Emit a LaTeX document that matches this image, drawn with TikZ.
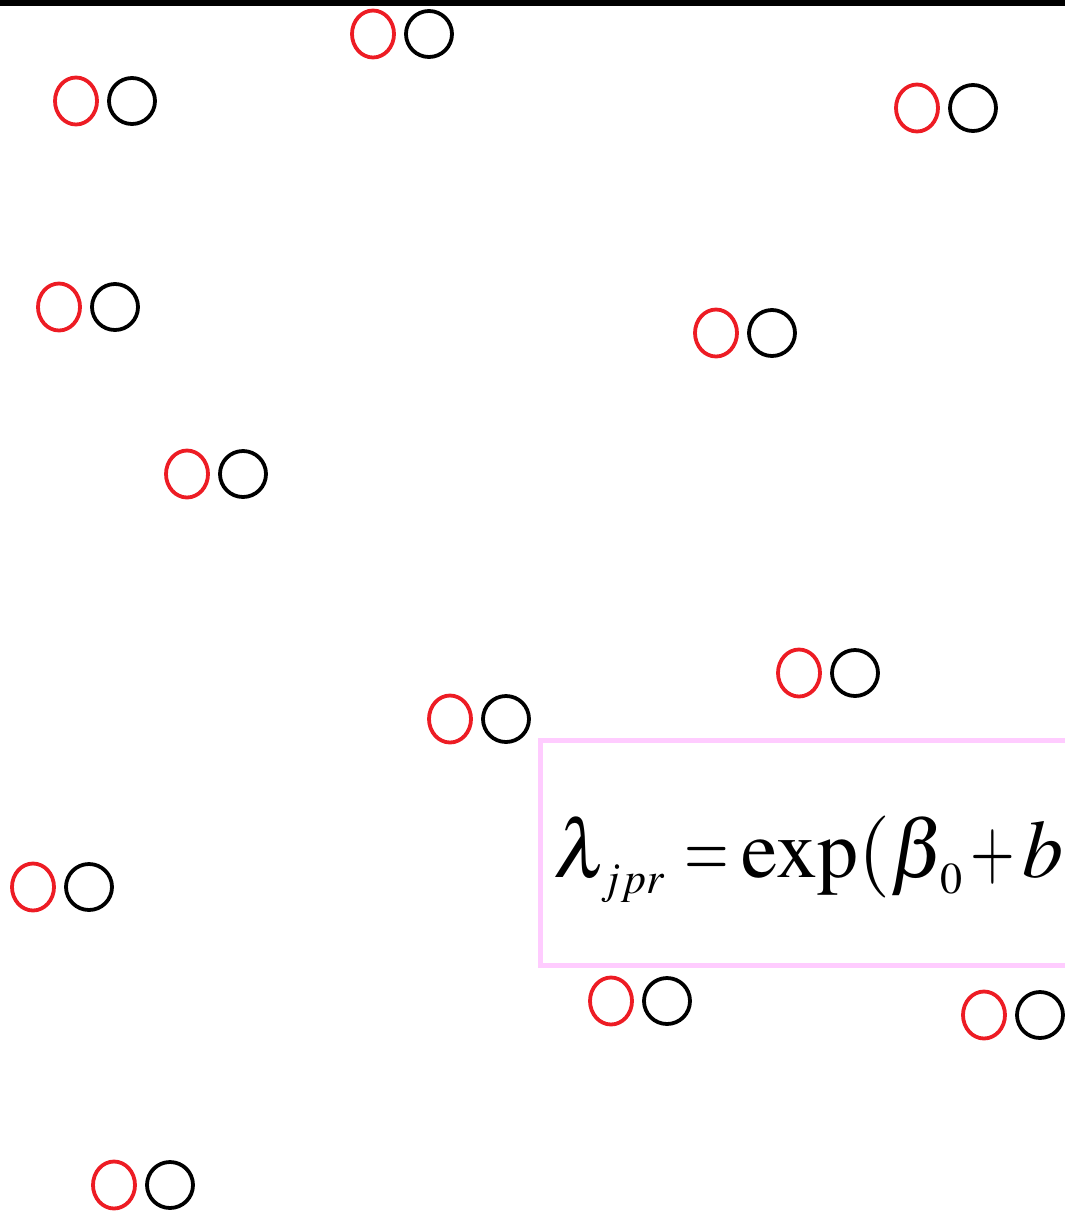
\documentclass[tikz,border=0pt]{standalone}
\usepackage{mathptmx}
\usetikzlibrary{shapes.geometric}
\definecolor{ringred}{RGB}{237,28,36}
\definecolor{boxpink}{RGB}{255,204,255}
\newcommand{\lowsub}[1]{\lower16pt\hbox{\fontsize{44}{44}\selectfont$#1$}}
\newcommand{\narrowop}[1]{\scalebox{0.7}[1]{$#1$}}

\begin{document}
\begin{tikzpicture}[
  x=1pt, y=-1pt,
  redring/.style={ellipse, draw=ringred, line width=3.8pt, minimum width=42pt, minimum height=47pt, inner sep=0pt},
  blackring/.style={circle, draw=black, line width=3.8pt, minimum size=46pt, inner sep=0pt},
  eqbox/.style={draw=boxpink, line width=4.5pt}
]
  \useasboundingbox (0,0) rectangle (1065,1211);
  \clip (0,0) rectangle (1065,1211);

  % top rule
  \fill (0,0) rectangle (1065,6);

  % ring pairs
  \foreach \px/\py [count=\i] in {373/34, 76/101, 917/108, 59/307, 716/333, 187/474,
      799/673, 450/719, 33/887, 611/1001, 984/1015, 114/1185}
  {
    \node[redring] (r\i) at (\px,\py) {};
    \node[blackring, xshift=56pt] (k\i) at (r\i) {};
  }

  % formula box
  \draw[eqbox] (540.5,740.5) rectangle (1100,965.5);
  \node[anchor=base west, inner sep=0pt] (eq) at (553,877)
    {\fontsize{82}{96}\selectfont
     $\lambda\kern-7pt\lowsub{jpr}\kern20pt\narrowop{=}\kern12pt{\mathrm{exp}}(\beta\kern-5pt\lowsub{0}\kern8pt\narrowop{+}\kern8pt b$};
\end{tikzpicture}
\end{document}
